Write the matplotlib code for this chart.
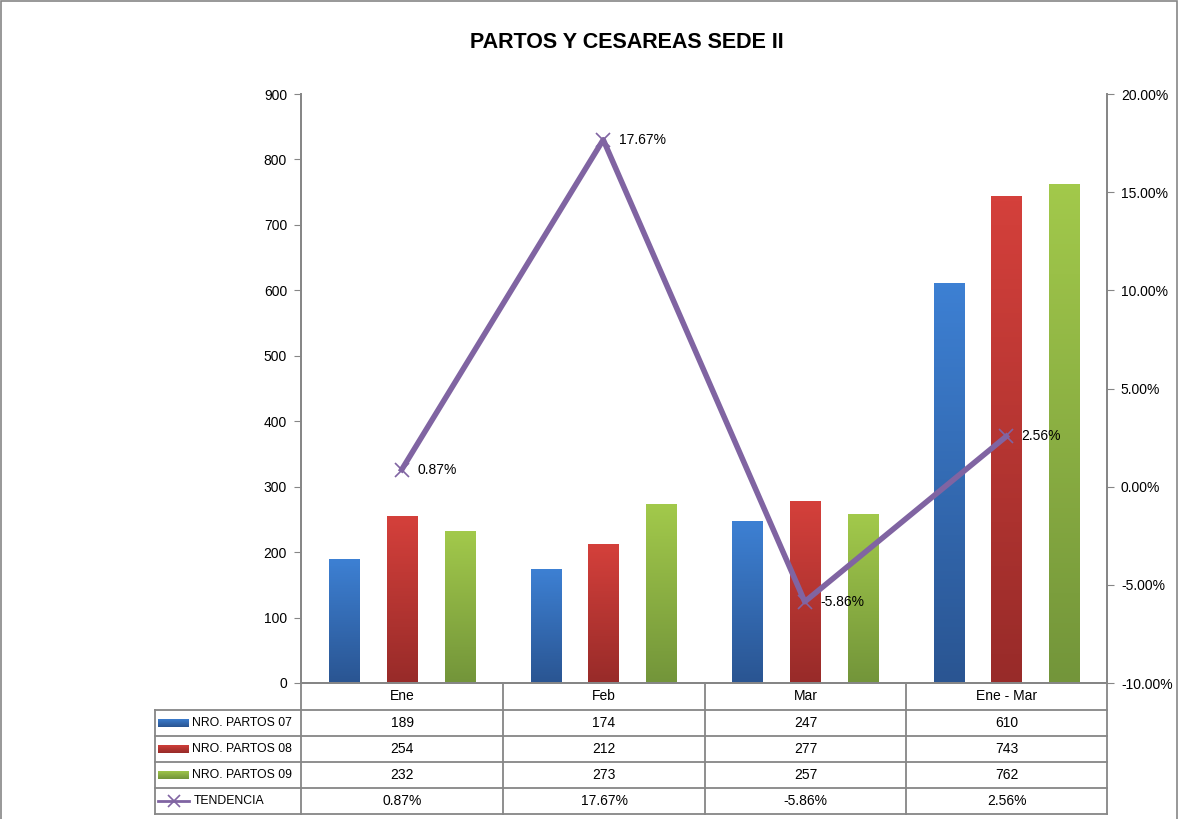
import numpy as np
import matplotlib
matplotlib.use("Agg")
import matplotlib.pyplot as plt
from matplotlib.lines import Line2D
from matplotlib.colors import LinearSegmentedColormap
from matplotlib.ticker import FuncFormatter

# data
categories = ["Ene", "Feb", "Mar", "Ene - Mar"]
series_names = ["NRO. PARTOS 07", "NRO. PARTOS 08", "NRO. PARTOS 09"]
partos_07 = [189, 174, 247, 610]
partos_08 = [254, 212, 277, 743]
partos_09 = [232, 273, 257, 762]
tendencia = [0.0087, 0.1767, -0.0586, 0.0256]
line_name = "TENDENCIA"

plt.rcParams['font.family'] = ['Liberation Sans', 'DejaVu Sans']

W, H = 1179, 819
fig = plt.figure(figsize=(W / 100, H / 100), dpi=100)
fig.patch.set_facecolor("white")

def fx(px):
    return px / W

def fy(py):
    return 1 - py / H

L, R, T, B = 301, 1107, 94, 683
ax = fig.add_axes([fx(L), fy(B), fx(R) - fx(L), fy(T) - fy(B)])
ax2 = ax.twinx()

grey = "#868686"
bar_colors = [("#3d80d3", "#2a5592"), ("#d4403b", "#982b29"), ("#a2c94b", "#73953a")]
x = np.arange(len(categories))
offsets = [-0.285, 0.0, 0.287]
bw = 0.149

for vals, off, (ctop, cbot) in zip([partos_07, partos_08, partos_09], offsets, bar_colors):
    bars = ax.bar(x + off, vals, width=bw, color=ctop, linewidth=0, zorder=2)
    cmap = LinearSegmentedColormap.from_list("g", [cbot, ctop])
    grad = np.linspace(1, 0, 100).reshape(-1, 1)
    for p in bars:
        ax.imshow(grad, cmap=cmap, vmin=0, vmax=1, aspect="auto", zorder=3,
                  extent=[p.get_x(), p.get_x() + p.get_width(), 0, p.get_height()])

ax.set_xlim(-0.5, len(categories) - 0.5)
ax.set_ylim(0, 900)
ax.set_yticks(range(0, 901, 100))
ax.set_xticks([])
ax.tick_params(axis="y", direction="out", length=5, color=grey, labelsize=10, pad=5)

purple = "#8064a2"
ax2.plot(x, tendencia, color=purple, lw=4, marker="x", ms=10, mew=1.2, zorder=5)
for xi, v in zip(x, tendencia):
    ax2.annotate(f"{v*100:.2f}%", (xi, v), xytext=(11, 0), textcoords="offset points",
                 va="center", ha="left", fontsize=10)
ax2.set_ylim(-0.10, 0.20)
ax2.set_yticks(np.arange(-0.10, 0.2001, 0.05))
ax2.yaxis.set_major_formatter(FuncFormatter(lambda v, p: f"{v*100:.2f}%"))
ax2.tick_params(axis="y", direction="out", length=5, color=grey, labelsize=10, pad=5)

for a in (ax, ax2):
    for s in a.spines.values():
        s.set_color(grey)
        s.set_linewidth(1.3)
    a.spines["top"].set_visible(False)

fig.text(fx(627), fy(43), "PARTOS Y CESAREAS SEDE II", ha="center", va="center",
         fontsize=15.5, fontweight="bold")

# data table below the plot
row_y = [683, 710, 736, 762, 788, 814]
col_x = [155, 301, 503, 705, 906, 1107]

def hline(y, x0, x1):
    fig.add_artist(Line2D([fx(x0), fx(x1)], [fy(y), fy(y)], color=grey, lw=1.3))

def vline(x0, y0, y1):
    fig.add_artist(Line2D([fx(x0), fx(x0)], [fy(y0), fy(y1)], color=grey, lw=1.3))

hline(row_y[0], col_x[1], col_x[-1])
for y in row_y[1:]:
    hline(y, col_x[0], col_x[-1])
vline(col_x[0], row_y[1], row_y[-1])
for cx in col_x[1:]:
    vline(cx, row_y[0], row_y[-1])

for i, c in enumerate(categories):
    cx = (col_x[i + 1] + col_x[i + 2]) / 2
    fig.text(fx(cx), fy((row_y[0] + row_y[1]) / 2), c, ha="center", va="center", fontsize=10)

rows = [partos_07, partos_08, partos_09]
for r, (name, vals, (ctop, cbot)) in enumerate(zip(series_names, rows, bar_colors)):
    yc = (row_y[r + 1] + row_y[r + 2]) / 2
    kax = fig.add_axes([fx(158), fy(yc + 4.5), fx(189) - fx(158), fy(yc - 4.5) - fy(yc + 4.5)])
    kax.imshow(np.linspace(0, 1, 20).reshape(-1, 1),
               cmap=LinearSegmentedColormap.from_list("k", [ctop, cbot]), aspect="auto")
    kax.axis("off")
    fig.text(fx(192), fy(yc), name, ha="left", va="center", fontsize=8.8)
    for i, v in enumerate(vals):
        cx = (col_x[i + 1] + col_x[i + 2]) / 2
        fig.text(fx(cx), fy(yc), str(v), ha="center", va="center", fontsize=10)

yc = (row_y[4] + row_y[5]) / 2
fig.add_artist(Line2D([fx(158), fx(189)], [fy(yc), fy(yc)], color=purple, lw=2))
fig.add_artist(Line2D([fx(173.5)], [fy(yc)], color=purple, marker="x", ms=9, mew=1.2))
fig.text(fx(194), fy(yc), line_name, ha="left", va="center", fontsize=8.8)
for i, v in enumerate(tendencia):
    cx = (col_x[i + 1] + col_x[i + 2]) / 2
    fig.text(fx(cx), fy(yc), f"{v*100:.2f}%", ha="center", va="center", fontsize=10)

# chart area border
fig.add_artist(plt.Rectangle((fx(1), fy(830)), fx(1176), fy(1) - fy(830), fill=False,
                             edgecolor=grey, lw=1.2))

fig.savefig("out.png", dpi=100)
